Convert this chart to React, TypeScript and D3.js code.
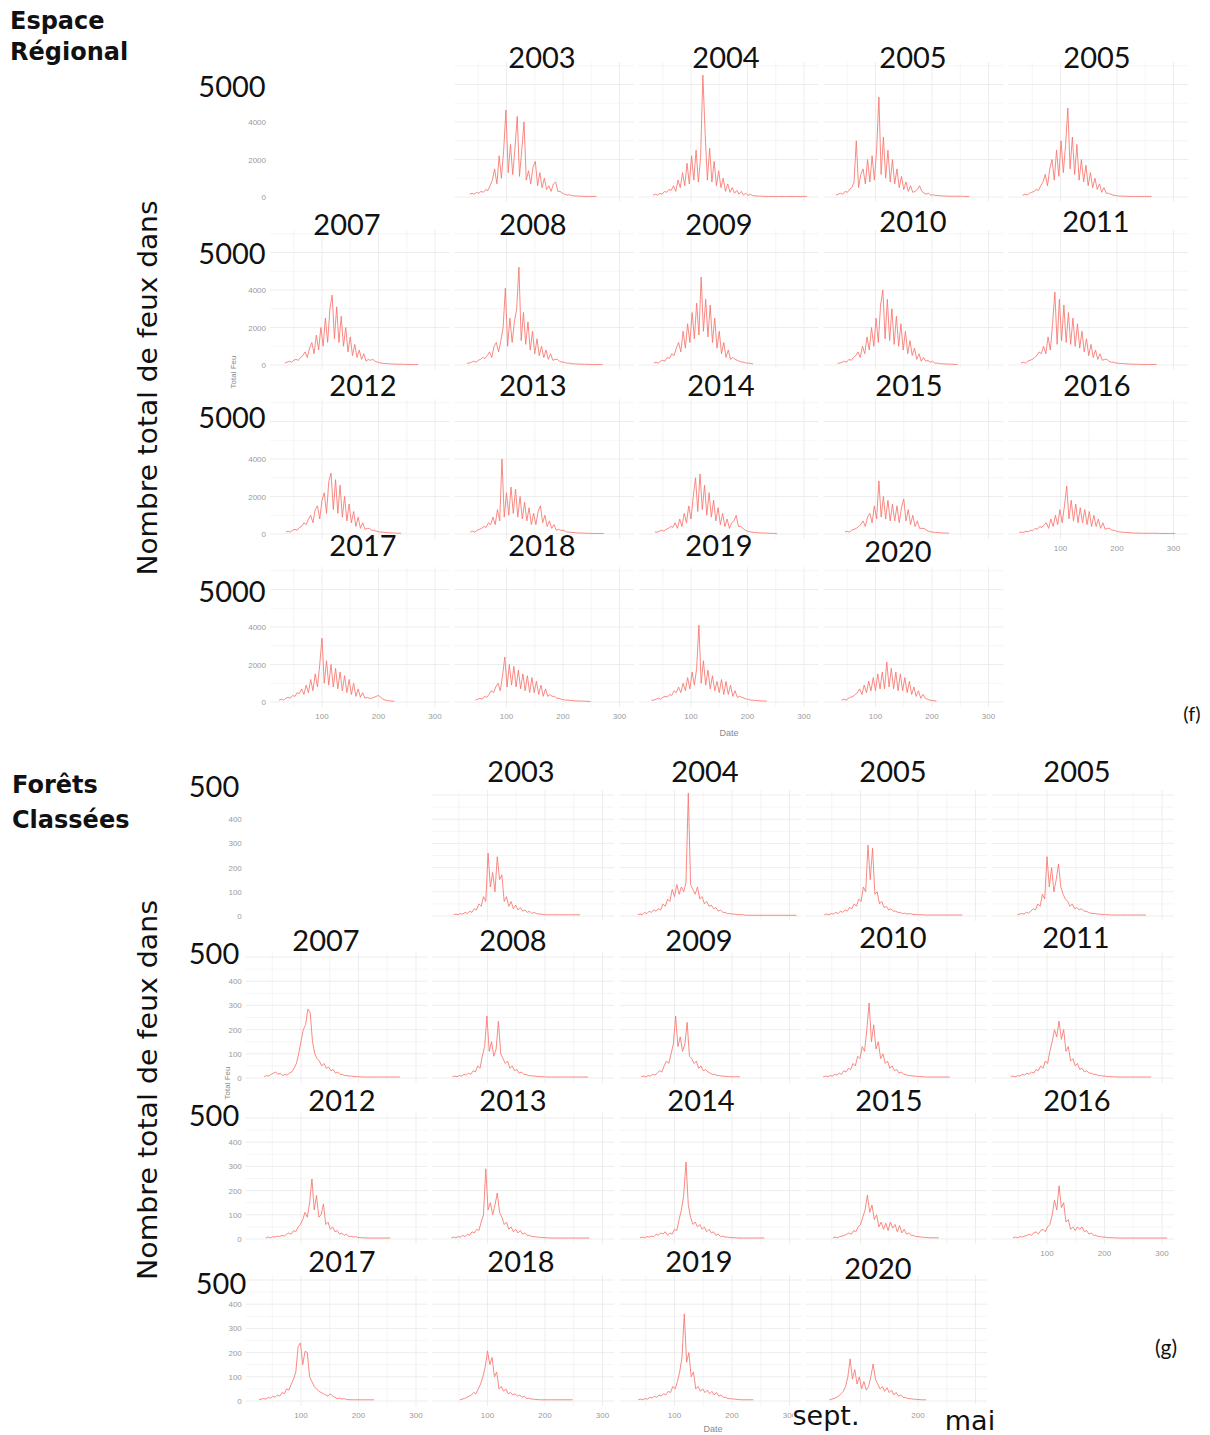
import React from "react";
import * as d3 from "d3";

// ---------------- DATA ----------------
// Panel labels (as printed in the figure)
const panelYears = ["2003", "2004", "2005", "2005", "2007", "2008", "2009", "2010", "2011", "2012", "2013", "2014", "2015", "2016", "2017", "2018", "2019", "2020"];

// Day step between consecutive values of every series
const DAY_STEP = 4;

// ---- (f) Espace Régional : daily total of fires ----
const regStarts = [35, 33, 30, 33, 34, 30, 34, 33, 30, 36, 36, 36, 46, 27, 24, 45, 30, 40];
const r2003 = [150,200,150,250,200,300,250,400,350,600,900,1500,700,2200,1000,2500,4640,1300,2800,1200,2600,4300,1100,2500,4000,900,1400,700,1600,1900,600,1300,500,1000,400,600,300,700,800,300,300,200,150,100,120,80,60,60,50,40,40,30,30,30,30,30,30];
const r2004 = [100,150,100,200,150,300,250,400,350,600,300,900,500,1300,600,1800,700,2200,900,2500,800,2100,6500,3400,900,2600,800,1900,600,1400,500,1000,300,700,250,500,200,350,150,300,100,200,80,150,80,60,50,50,40,40,30,30,30,30,30,30,30,30,30,30,30,30,30,30,30,30,30,30,30];
const r2005 = [100,150,200,150,300,250,400,500,800,3000,500,1200,1500,700,2000,800,2200,900,2500,5330,1200,3200,1000,2500,800,2000,700,1500,500,1100,400,800,300,600,250,300,400,600,300,200,150,200,100,120,80,80,60,60,50,50,40,40,40,40,40,40,40,30,30,30];
const r2006 = [100,150,100,200,250,300,400,350,600,800,1200,600,1500,2000,900,2500,1100,3000,1300,2800,4740,1500,3200,1200,2800,900,2000,800,1700,600,1300,500,1000,400,700,250,500,200,200,150,100,80,60,50,50,40,40,30,30,30,30,30,30,30,30,30,30,30];
const r2007 = [100,150,200,150,250,300,250,400,500,700,400,900,1200,600,1600,800,2000,1000,2500,1200,3000,3730,1400,3100,1200,2600,1000,2000,700,1500,500,1100,400,800,300,600,200,300,250,300,200,150,120,100,80,80,60,60,50,50,40,40,40,40,30,30,30,30,30,30];
const r2008 = [100,100,150,200,150,250,300,400,350,500,700,400,1000,1200,700,1300,2000,4100,1000,2500,1200,2300,3000,5220,1300,2800,1100,2300,800,1800,600,1400,500,1000,400,800,300,600,250,300,300,200,150,150,100,100,80,60,60,50,50,40,40,40,30,30,30,30,30,30,30];
const r2009 = [100,150,100,200,250,200,400,350,600,500,900,1200,700,1800,900,2200,1200,2800,1400,3300,1600,4690,1800,3500,1500,3200,1200,2500,900,1800,600,1200,400,800,300,400,300,250,200,150,150,100,100,80,60];
const r2010 = [100,100,150,200,150,300,250,400,500,700,400,1000,600,1500,800,2000,1000,2500,1200,3200,4000,1400,3500,1300,3000,1100,2600,1000,2200,800,1800,600,1300,500,900,300,600,200,400,200,250,150,200,100,100,80,60,60,50,50,40,40,30,30];
const r2011 = [100,150,100,200,250,300,400,500,700,600,1000,600,1500,800,2200,3890,1100,3500,1300,3200,1200,2800,1100,2500,1000,2200,900,1800,700,1400,500,1100,400,800,300,600,250,300,300,200,150,150,100,100,80,80,60,60,50,50,40,40,40,30,30,30,30,30,30,30,30];
const r2012 = [100,150,100,200,250,200,350,400,600,500,800,1000,600,1300,1500,800,1800,2200,1100,2800,3250,1300,2900,1100,2600,900,2000,700,1600,600,1200,400,900,300,600,250,300,300,200,200,150,120,100,100,80,80,60,60,50,50,40,40];
const r2013 = [100,150,100,200,250,300,400,350,600,500,900,500,1300,700,4000,900,2200,1000,2500,1100,2400,900,2000,800,1700,700,1400,500,1100,500,1200,1500,600,1000,400,700,300,500,200,250,200,200,150,100,100,80,80,60,60,50,50,40,40,40,30,30,30,30,30,30];
const r2014 = [100,100,150,200,150,250,300,400,350,600,300,800,400,1100,600,1500,800,2000,3000,1200,3200,1300,2600,1000,2200,900,1800,700,1400,500,1100,400,800,300,600,700,1000,400,400,300,200,150,120,100,80,80,60,60,50,50,40,40,30,30,30];
const r2015 = [100,150,100,200,250,300,400,500,700,400,900,1100,600,1500,800,2830,900,2000,800,1800,700,1600,700,1500,600,1400,1870,700,1300,500,1000,400,700,300,300,300,200,150,120,100,80,80,60,60,50,50,40];
const r2016 = [80,100,80,150,120,200,180,300,250,400,350,500,600,300,800,400,1000,500,1300,600,1500,2560,800,1800,700,1600,600,1400,600,1300,500,1200,400,1000,400,800,300,600,250,300,300,200,200,150,120,100,100,80,80,60,60,50,50,50,40,40,40,40,40,40,40,40,30,30,30,30,30,30,30,30];
const r2017 = [100,150,100,200,250,200,350,300,500,450,700,400,900,500,1200,600,1500,800,2000,3410,1000,2200,900,2000,800,1800,700,1600,600,1400,500,1200,400,1000,300,700,250,500,200,250,200,200,250,300,350,250,150,100,80,60,50,40];
const r2018 = [100,150,200,150,300,250,400,600,500,800,1000,600,1400,2400,800,2000,900,1900,800,1700,700,1500,600,1400,500,1300,500,1100,400,900,300,700,300,400,300,300,200,200,150,120,100,100,80,80,60,60,50,50,40,40,30,30];
const r2019 = [100,100,150,200,150,250,300,250,400,350,600,500,800,500,1000,600,1300,700,1600,900,1800,4100,1000,2200,900,1700,700,1400,600,1100,500,1200,400,1100,400,900,300,600,250,300,250,200,150,150,100,100,80,80,60,60,50,50];
const r2020 = [100,150,100,200,250,300,400,500,700,400,900,500,1100,600,1300,600,1500,700,1600,700,2130,800,1800,700,1600,600,1500,600,1300,500,1100,400,800,300,600,200,400,200,150,100,80,60,50];
const regSeries = [r2003, r2004, r2005, r2006, r2007, r2008, r2009, r2010, r2011, r2012, r2013, r2014, r2015, r2016, r2017, r2018, r2019, r2020];

// ---- (g) Forêts Classées : daily total of fires ----
const forStarts = [41, 36, 37, 48, 36, 39, 42, 35, 37, 39, 37, 40, 52, 41, 27, 52, 37, 46];
const f2003 = [5,8,5,10,8,15,10,20,15,30,25,50,40,80,60,260,120,180,100,245,150,170,60,80,40,60,30,45,25,35,20,25,15,20,10,15,10,8,8,6,5,5,5,5,5,5,5,5,5,5,5,5,5,5,5,5];
const f2004 = [5,8,5,15,10,20,15,25,20,30,25,50,40,70,60,110,80,130,90,120,100,140,508,130,110,90,120,70,80,50,60,40,45,30,35,20,25,15,15,10,10,8,8,6,6,5,5,3,3,3,3,3,3,3,3,3,3,3,3,3,3,3,3,3,3,3,3,3,3,3];
const f2005 = [5,8,5,10,8,15,10,20,15,25,20,35,30,50,40,70,60,120,100,293,150,280,90,100,50,60,35,40,25,30,20,20,15,15,10,12,8,10,8,6,6,5,5,5,4,4,4,4,4,4,4,4,4,4,4,4,4,4,4,4,4];
const f2006 = [5,8,10,8,15,12,20,30,25,50,40,90,70,245,120,200,100,150,215,120,90,70,60,40,50,30,35,25,30,20,20,15,12,10,10,8,8,6,6,5,5,4,4,4,4,4,4,4,4,4,4,4,4,4,4,4,4];
const f2007 = [5,10,8,15,20,25,15,20,10,15,12,20,25,40,60,100,150,200,220,285,270,150,100,80,70,50,60,40,45,30,35,20,25,15,15,10,10,8,8,6,6,5,5,4,4,4,4,4,4,4,4,4,4,4,4,4,4,4,4,4];
const f2008 = [5,8,5,10,8,15,12,20,15,30,25,50,40,90,130,256,110,150,90,120,235,100,80,60,70,40,50,30,35,20,25,15,15,10,10,8,8,6,6,5,5,4,4,4,4,4,4,4,4,4,4,4,4,4,4,4,4,4,4,4];
const f2009 = [5,8,5,10,8,15,12,20,30,25,50,70,60,100,140,256,130,170,110,140,230,90,80,60,70,40,50,30,35,25,20,15,15,10,10,8,8,6,6,5,5,5,5,5];
const f2010 = [5,8,5,10,8,15,12,20,15,30,25,40,35,60,50,90,80,130,110,200,310,150,220,120,150,80,100,60,70,40,50,30,35,20,25,15,15,10,10,8,8,6,6,5,5,4,4,4,4,4,4,4,4,4,4,4];
const f2011 = [5,8,5,10,8,15,12,20,15,25,20,35,30,50,40,70,60,110,150,200,170,235,160,200,110,130,70,80,50,60,35,40,25,30,20,20,15,15,10,10,8,8,6,6,5,5,4,4,4,4,4,4,4,4,4,4,4,4,4,4,4,4];
const f2012 = [5,8,5,10,8,12,10,15,12,20,25,20,35,30,50,60,80,110,90,150,248,120,180,90,100,145,60,70,40,50,30,35,20,25,15,20,10,12,8,10,6,6,5,5,4,4,4,4,4,4,4,4,4,4,4];
const f2013 = [5,8,5,10,8,15,10,20,15,30,25,40,35,70,100,290,120,150,100,140,190,110,90,60,70,40,50,30,40,25,35,20,25,15,15,10,10,8,8,6,6,5,5,4,4,4,4,4,4,4,4,4,4,4,4,4,4,4,4,4,4];
const f2014 = [5,8,5,10,8,12,10,20,15,25,20,30,15,25,20,40,35,80,120,180,318,140,90,60,70,50,60,40,50,30,40,25,30,15,20,10,12,8,8,6,6,5,5,4,4,4,4,4,4,4,4,4,4,4,4];
const f2015 = [5,8,5,10,12,15,20,25,20,35,30,50,60,90,120,182,110,140,80,100,50,70,40,65,35,70,45,60,30,55,25,40,20,25,15,15,10,10,8,8,6,6,5,5,5,5,5];
const f2016 = [5,8,5,10,8,12,15,20,15,25,30,20,35,40,30,50,60,100,160,120,220,130,150,70,80,40,50,35,50,40,50,30,35,20,25,15,15,10,10,8,8,6,6,5,5,4,4,4,4,4,4,4,4,4,4,4,4,4,4,4,4,4,4,4,4,4,4,4];
const f2017 = [5,8,10,8,15,12,20,15,25,20,35,30,50,45,70,90,120,225,240,150,205,200,100,80,60,50,40,35,30,25,20,30,20,15,10,12,8,10,6,6,5,5,5,5,5,5,5,5,5,5,5];
const f2018 = [5,8,10,15,20,25,35,30,50,70,100,140,207,150,180,100,120,50,60,40,50,30,35,25,30,20,25,15,20,10,12,8,8,6,6,5,5,5,5,5,5,5,5,5,5,5,5,5,5,5];
const f2019 = [5,8,5,10,8,15,12,20,15,25,20,30,25,40,35,60,50,80,120,180,360,160,200,100,120,50,60,40,50,35,45,30,40,25,35,20,25,15,15,10,10,8,8,6,6,5,5,5,5,5,5];
const f2020 = [5,8,10,15,20,30,40,60,100,174,90,130,70,100,50,80,45,60,100,153,90,70,50,60,40,55,35,45,25,35,20,25,15,15,10,10,8,8,6,6,5,5,5];
const forSeries = [f2003, f2004, f2005, f2006, f2007, f2008, f2009, f2010, f2011, f2012, f2013, f2014, f2015, f2016, f2017, f2018, f2019, f2020];

// Tick labels
const xTickValues = [100, 200, 300];
const regYTickValues = [0, 2000, 4000];
const forYTickValues = [0, 100, 200, 300, 400];

// ---------------- LAYOUT ----------------
const W = 1210;
const H = 1435;
const BIG_FONT = "Lato, 'Open Sans', sans-serif";
const WORD_FONT = "'DejaVu Sans', Lato, sans-serif";
const SMALL_FONT = "'Liberation Sans', Arial, sans-serif";
const LINE_COLOR = "#F8766D";
const GRID = "#ebebeb";

type Layout = {
  colDay0: number[];
  ppd: number;
  rowZero: number[];
  ppu: number;
  xDom: [number, number];
  yDom: [number, number];
  yMajor: number[];
  yMinor: number[];
  titlePos: [number, number][];
  bigPos: [number, number][];
  bigText: string;
  yTicks: number[];
  datePos: [number, number];
  feuPos: [number, number];
  hiddenXTicks: string[];
};

const regLayout: Layout = {
  colDay0: [265.5, 450, 634.5, 819, 1004],
  ppd: 0.565,
  rowZero: [197, 365, 534, 702],
  ppu: 0.01875,
  xDom: [8, 326],
  yDom: [-250, 7200],
  yMajor: [0, 2000, 4000, 6000],
  yMinor: [1000, 3000, 5000, 7000],
  titlePos: [[542, 68], [726, 68], [913, 68], [1097, 68], [347, 235], [533, 235], [719, 235], [913, 232], [1096, 232], [363, 396], [533, 396], [721, 396], [909, 396], [1097, 396], [363, 556], [542, 556], [719, 556], [898, 562]],
  bigPos: [[232, 97], [232, 264], [232, 428], [232, 602]],
  bigText: "5000",
  yTicks: regYTickValues,
  datePos: [729, 736],
  feuPos: [236, 372],
  hiddenXTicks: [],
};

const forLayout: Layout = {
  colDay0: [243.5, 430, 617, 803, 989.5],
  ppd: 0.575,
  rowZero: [916, 1078, 1239, 1401],
  ppu: 0.242,
  xDom: [4, 320],
  yDom: [-20, 520],
  yMajor: [0, 100, 200, 300, 400, 500],
  yMinor: [50, 150, 250, 350, 450],
  titlePos: [[521, 782], [705, 782], [893, 782], [1077, 782], [326, 951], [513, 951], [699, 951], [893, 948], [1076, 948], [342, 1111], [513, 1111], [701, 1111], [889, 1111], [1077, 1111], [342, 1272], [521, 1272], [699, 1272], [878, 1279]],
  bigPos: [[214, 797], [214, 964], [214, 1126], [221, 1294]],
  bigText: "500",
  yTicks: forYTickValues,
  datePos: [713, 1432],
  feuPos: [230, 1083],
  // tick labels covered by the "sept." / "mai" annotations in the figure
  hiddenXTicks: ["3-100", "3-300"],
};

function slotOf(i: number) {
  if (i < 4) return { row: 0, col: i + 1 };
  return { row: Math.floor((i + 1) / 5), col: (i + 1) % 5 };
}

function isBottomOfColumn(row: number, col: number) {
  return (col < 4 && row === 3) || (col === 4 && row === 2);
}

function scalesFor(L: Layout, row: number, col: number) {
  const x0 = L.colDay0[col];
  const z = L.rowZero[row];
  const xs = d3.scaleLinear().domain(L.xDom).range([x0 + L.xDom[0] * L.ppd, x0 + L.xDom[1] * L.ppd]);
  const ys = d3.scaleLinear().domain(L.yDom).range([z - L.yDom[0] * L.ppu, z - L.yDom[1] * L.ppu]);
  return { xs, ys };
}

function Section({ L, series, starts, tag }: { L: Layout; series: number[][]; starts: number[]; tag: string }) {
  const xMajor = xTickValues;
  const xMinor = [50, 150, 250];

  const panels = series.map((vals, i) => {
    const { row, col } = slotOf(i);
    const { xs, ys } = scalesFor(L, row, col);
    const line = d3
      .line<[number, number]>()
      .x((d) => xs(d[0]))
      .y((d) => ys(d[1]));
    const pts: [number, number][] = vals.map((v, k) => [starts[i] + k * DAY_STEP, v]);
    const [xa, xb] = xs.range();
    const [yb, ya] = ys.range();
    return (
      <g key={`${tag}-p${i}`}>
        {L.yMinor.map((v) => (
          <line key={`ymn${v}`} x1={xa} x2={xb} y1={ys(v)} y2={ys(v)} stroke={GRID} strokeWidth={0.5} />
        ))}
        {xMinor.map((v) => (
          <line key={`xmn${v}`} x1={xs(v)} x2={xs(v)} y1={ya} y2={yb} stroke={GRID} strokeWidth={0.5} />
        ))}
        {L.yMajor.map((v) => (
          <line key={`ymj${v}`} x1={xa} x2={xb} y1={ys(v)} y2={ys(v)} stroke={GRID} strokeWidth={0.9} />
        ))}
        {xMajor.map((v) => (
          <line key={`xmj${v}`} x1={xs(v)} x2={xs(v)} y1={ya} y2={yb} stroke={GRID} strokeWidth={0.9} />
        ))}
        <path d={line(pts) || ""} fill="none" stroke={LINE_COLOR} strokeWidth={1} strokeOpacity={0.85} strokeLinejoin="round" />
        {isBottomOfColumn(row, col) &&
          xTickValues
            .filter((t) => !L.hiddenXTicks.includes(`${col}-${t}`))
            .map((t) => (
              <text key={`xt${t}`} x={xs(t)} y={yb + 12} fontSize={8} fill="#9a9a9a" fontFamily={SMALL_FONT} textAnchor="middle">
                {t}
              </text>
            ))}
      </g>
    );
  });

  const yLabels = L.rowZero.map((_, row) => {
    const { xs, ys } = scalesFor(L, row, 0);
    const xLeft = xs.range()[0] - 4;
    return (
      <g key={`${tag}-yl${row}`}>
        {L.yTicks.map((t) => (
          <text key={t} x={xLeft} y={ys(t) + 3} fontSize={8} fill="#9a9a9a" fontFamily={SMALL_FONT} textAnchor="end">
            {t}
          </text>
        ))}
      </g>
    );
  });

  return (
    <g>
      {panels}
      {yLabels}
      <text x={L.datePos[0]} y={L.datePos[1]} fontSize={9} fill="#8a8a8a" fontFamily={SMALL_FONT} textAnchor="middle">
        Date
      </text>
      <text transform={`translate(${L.feuPos[0]},${L.feuPos[1]}) rotate(-90)`} fontSize={8} fill="#8a8a8a" fontFamily={SMALL_FONT} textAnchor="middle">
        Total Feu
      </text>
      {L.bigPos.map((p, k) => (
        <text key={`big${k}`} x={p[0]} y={p[1]} fontSize={29} fill="#111" fontFamily={BIG_FONT} textAnchor="middle">
          {L.bigText}
        </text>
      ))}
      {panelYears.map((yr, i) => (
        <text key={`yr${i}`} x={L.titlePos[i][0]} y={L.titlePos[i][1]} fontSize={29} fill="#111" fontFamily={BIG_FONT} textAnchor="middle">
          {yr}
        </text>
      ))}
    </g>
  );
}

export default function App() {
  return (
    <svg width={W} height={H} viewBox={`0 0 ${W} ${H}`} style={{ position: "absolute", left: 0, top: 0, background: "#fff" }}>
      <rect x={0} y={0} width={W} height={H} fill="#fff" />
      <Section L={regLayout} series={regSeries} starts={regStarts} tag="reg" />
      <Section L={forLayout} series={forSeries} starts={forStarts} tag="for" />

      {/* Section titles */}
      <text x={10} y={29} fontSize={24} fontWeight={700} fill="#111" fontFamily={WORD_FONT}>Espace</text>
      <text x={10} y={60} fontSize={24} fontWeight={700} fill="#111" fontFamily={WORD_FONT}>Régional</text>
      <text x={12} y={793} fontSize={24} fontWeight={700} fill="#111" fontFamily={WORD_FONT}>Forêts</text>
      <text x={12} y={828} fontSize={24} fontWeight={700} fill="#111" fontFamily={WORD_FONT}>Classées</text>

      {/* Rotated axis titles */}
      <text transform="translate(157,388) rotate(-90)" fontSize={26} fill="#111" fontFamily={WORD_FONT} textAnchor="middle" textLength={375} lengthAdjust="spacingAndGlyphs">
        Nombre total de feux dans
      </text>
      <text transform="translate(157,1090) rotate(-90)" fontSize={26} fill="#111" fontFamily={WORD_FONT} textAnchor="middle" textLength={380} lengthAdjust="spacingAndGlyphs">
        Nombre total de feux dans
      </text>

      {/* Panel tags */}
      <text x={1192} y={721} fontSize={20} fill="#111" fontFamily={BIG_FONT} textAnchor="middle">(f)</text>
      <text x={1166} y={1355} fontSize={21} fill="#111" fontFamily={BIG_FONT} textAnchor="middle">(g)</text>

      {/* Month annotations (white boxes as in the figure) */}
      <rect x={793} y={1404} width={70} height={31} fill="#fff" />
      <text x={826} y={1425} fontSize={27} fill="#111" fontFamily={WORD_FONT} textAnchor="middle">sept.</text>
      <rect x={942} y={1404} width={58} height={31} fill="#fff" />
      <text x={970} y={1430} fontSize={27} fill="#111" fontFamily={WORD_FONT} textAnchor="middle">mai</text>
    </svg>
  );
}
